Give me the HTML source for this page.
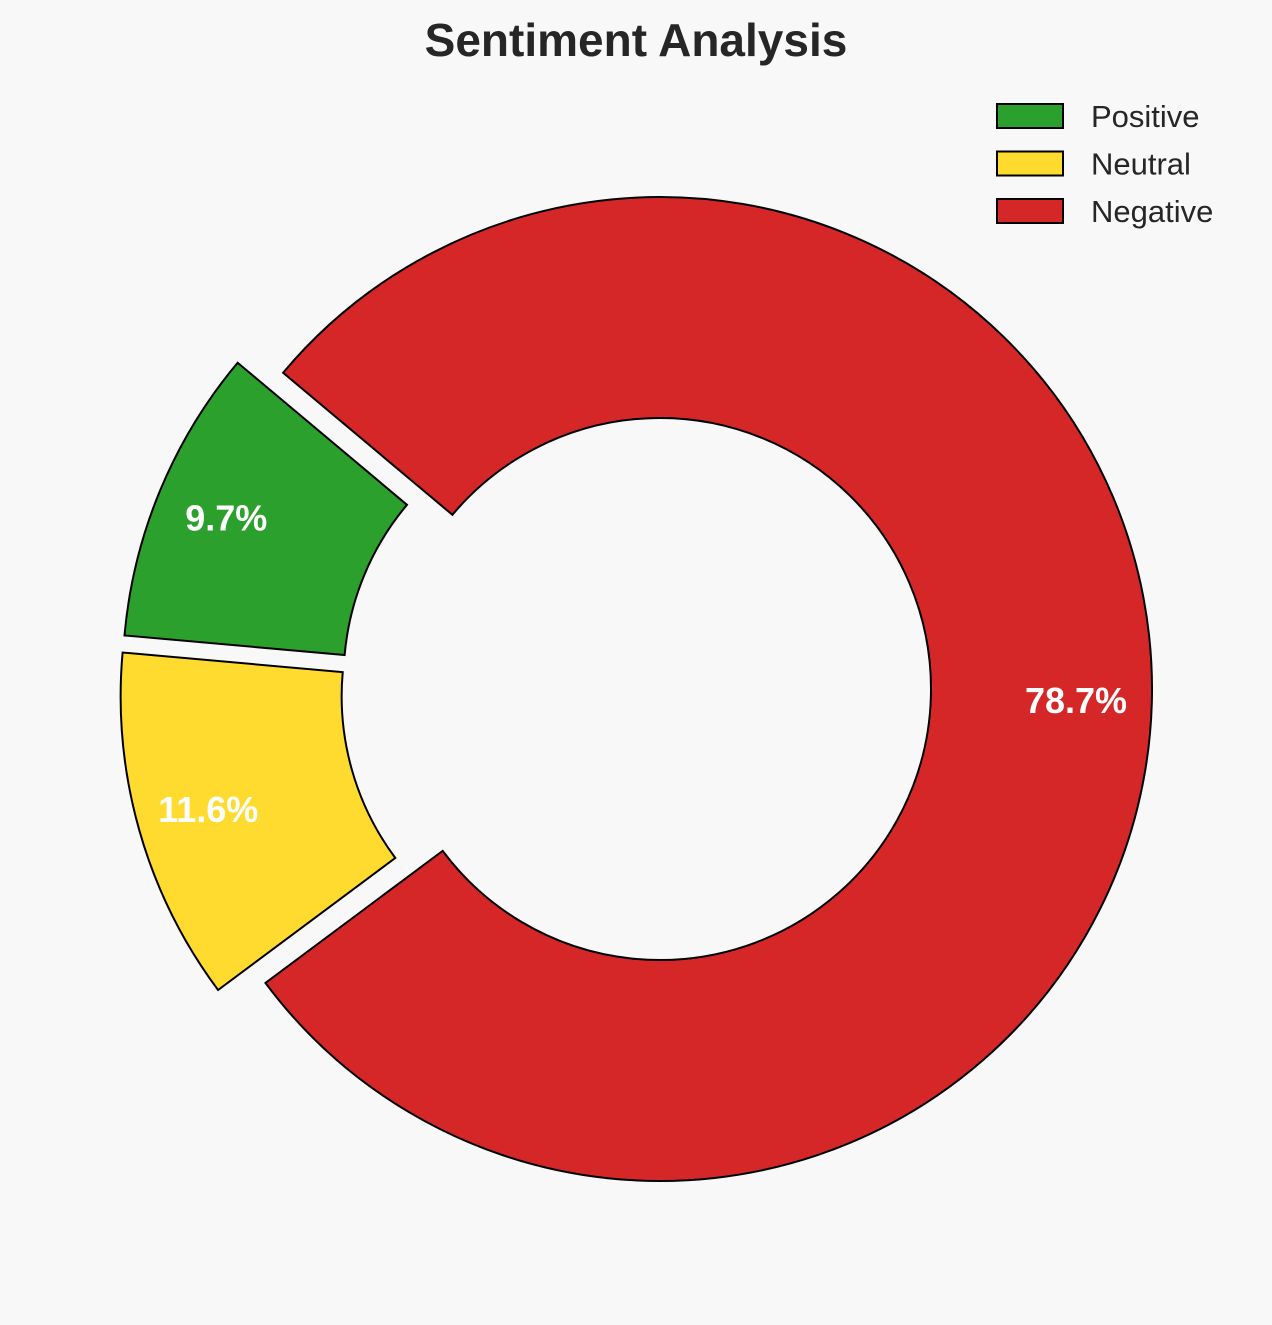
<!DOCTYPE html>
<html><head><meta charset="utf-8"><style>
body{margin:0;background:#f8f8f8;}
svg{display:block;font-family:"Liberation Sans",Arial,sans-serif;}
</style></head><body>
<svg id="chart" width="1272" height="1325">
<rect width="1272" height="1325" fill="#f8f8f8"/>
<text x="636" y="56" text-anchor="middle" font-size="46" font-weight="bold" fill="#262626">Sentiment Analysis</text>
<g id="slices"></g>
<g id="labels"></g>
<g id="legend"></g>
</svg>
<script>
const categories = ["Positive", "Neutral", "Negative"];
const values = [9.7, 11.6, 78.7];
const explodes = [0.1, 0.1, 0];
const colors = ["#2ca02c", "#ffdb30", "#d62728"];
const NS = "http://www.w3.org/2000/svg";
const cx = 660, cy = 689, R = 492, r = 271, startAngle = 140, pctDist = 0.85;
const total = values.reduce((a, b) => a + b, 0);
const slicesG = document.getElementById('slices');
const labelsG = document.getElementById('labels');
const legendG = document.getElementById('legend');
function pt(ox, oy, rad, deg) { const a = deg * Math.PI / 180; return [ox + rad * Math.cos(a), oy - rad * Math.sin(a)]; }
let a0 = startAngle;
values.forEach((v, i) => {
  const sweep = v / total * 360, a1 = a0 + sweep, mid = (a0 + a1) / 2;
  const m = mid * Math.PI / 180, ed = explodes[i] * R;
  const ox = cx + ed * Math.cos(m), oy = cy - ed * Math.sin(m) * 0.53;
  const p1 = pt(ox, oy, R, a0), p2 = pt(ox, oy, R, a1), p3 = pt(ox, oy, r, a1), p4 = pt(ox, oy, r, a0);
  const large = sweep > 180 ? 1 : 0;
  const d = `M${p1[0]},${p1[1]} A${R},${R} 0 ${large} 0 ${p2[0]},${p2[1]} L${p3[0]},${p3[1]} A${r},${r} 0 ${large} 1 ${p4[0]},${p4[1]} Z`;
  const path = document.createElementNS(NS, 'path');
  path.setAttribute('d', d);
  path.setAttribute('fill', colors[i]);
  path.setAttribute('stroke', '#000');
  path.setAttribute('stroke-width', '2');
  
  
  slicesG.appendChild(path);
  const lp = pt(ox, oy, pctDist * R, mid);
  const t = document.createElementNS(NS, 'text');
  t.setAttribute('x', lp[0] - 2); t.setAttribute('y', lp[1] + 12);
  t.setAttribute('text-anchor', 'middle');
  t.setAttribute('font-size', '36'); t.setAttribute('font-weight', 'bold'); t.setAttribute('fill', '#fff');
  t.textContent = v.toFixed(1) + '%';
  
  
  labelsG.appendChild(t);
  a0 = a1;
});
categories.forEach((c, i) => {
  const y = 116 + i * 47.5;
  const g = document.createElementNS(NS, 'g');
  
  
  const rect = document.createElementNS(NS, 'rect');
  rect.setAttribute('x', 997); rect.setAttribute('y', y - 12); rect.setAttribute('width', 66); rect.setAttribute('height', 24);
  rect.setAttribute('fill', colors[i]); rect.setAttribute('stroke', '#000'); rect.setAttribute('stroke-width', '2');
  
  
  const t = document.createElementNS(NS, 'text');
  t.setAttribute('x', 1091); t.setAttribute('y', y + 11);
  t.setAttribute('font-size', '31'); t.setAttribute('fill', '#262626');
  t.textContent = c;
  
  
  g.appendChild(rect); g.appendChild(t); legendG.appendChild(g);
});
</script>
</body></html>
